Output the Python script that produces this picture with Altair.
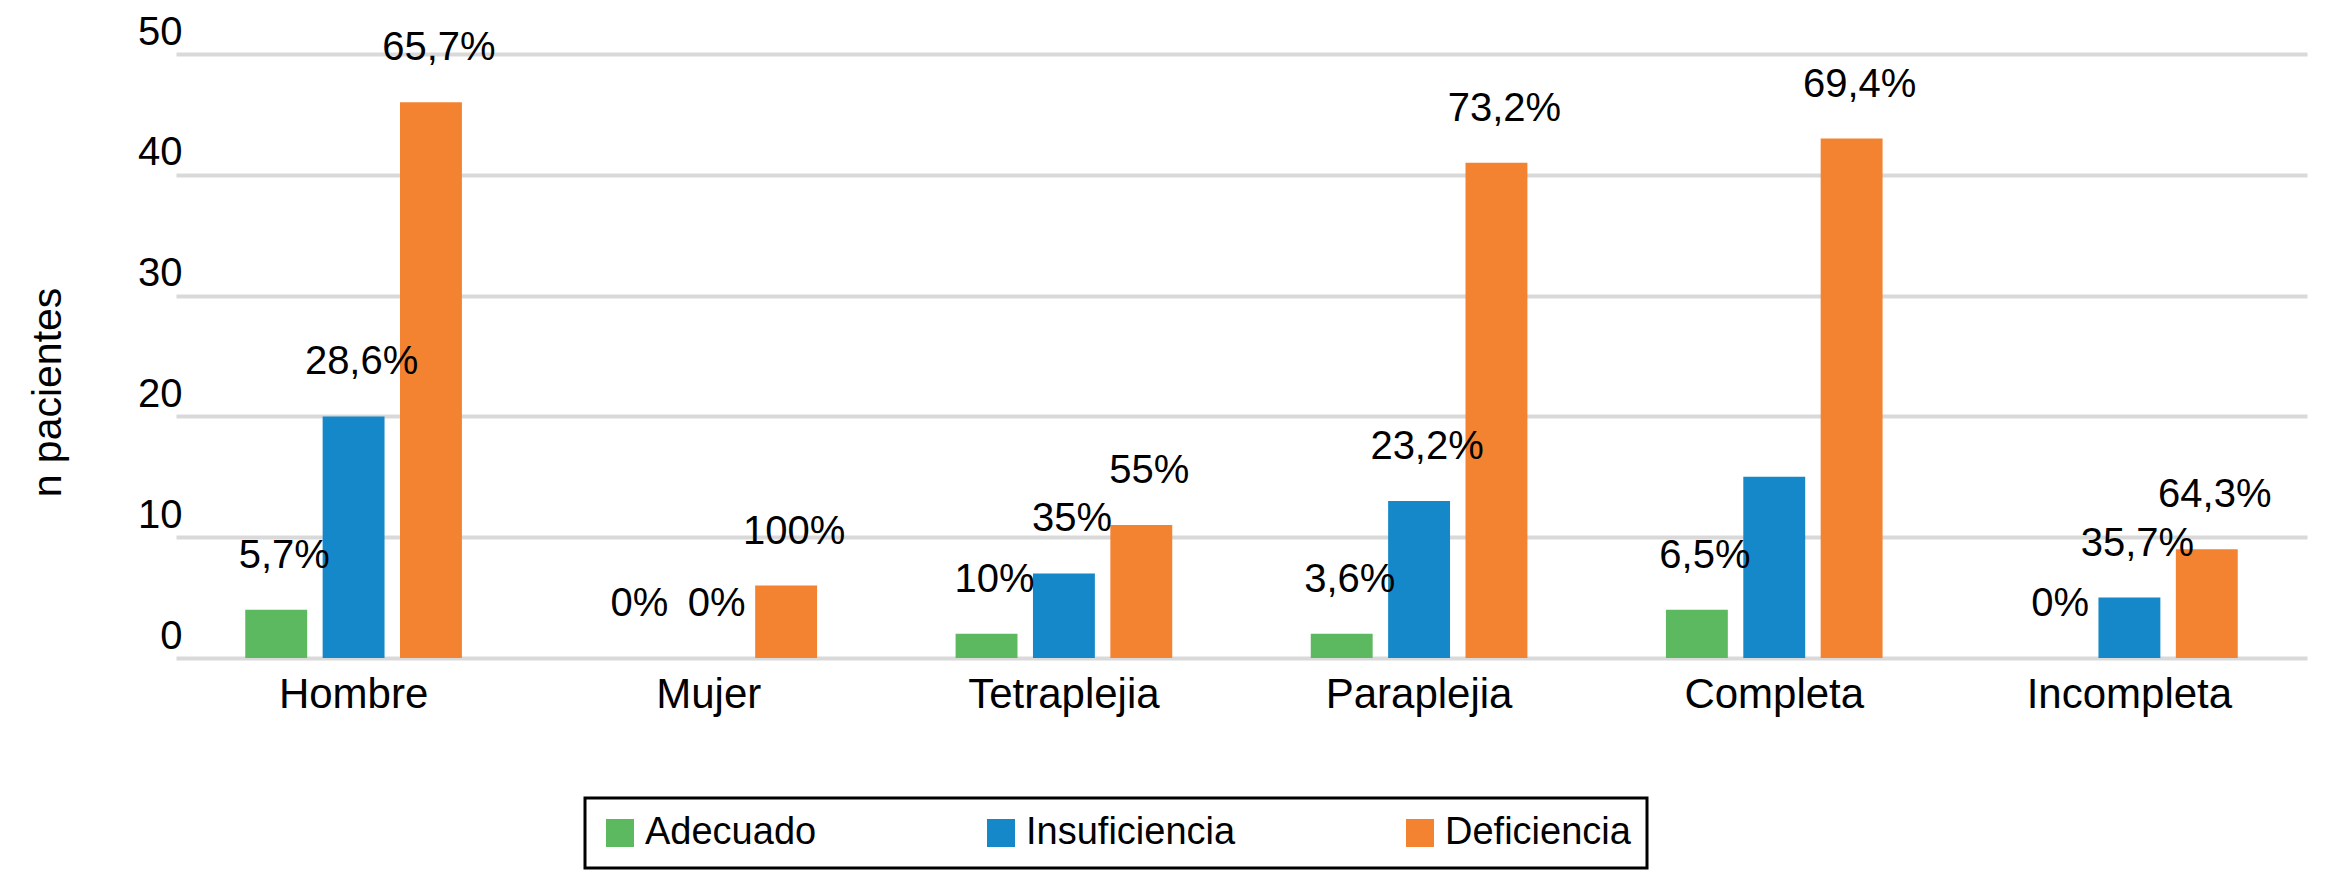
import altair as alt
import pandas as pd

categorias = ["Hombre", "Mujer", "Tetraplejia", "Paraplejia", "Completa", "Incompleta"]
series = ["Adecuado", "Insuficiencia", "Deficiencia"]

adecuado = [4, 0, 2, 2, 4, 0]
insuficiencia = [20, 0, 7, 13, 15, 5]
deficiencia = [46, 6, 11, 41, 43, 9]

pct_adecuado = ["5,7%", "0%", "10%", "3,6%", "6,5%", "0%"]
pct_insuficiencia = ["28,6%", "0%", "35%", "23,2%", "", "35,7%"]
pct_deficiencia = ["65,7%", "100%", "55%", "73,2%", "69,4%", "64,3%"]

colores = ["#5DB960", "#1488C8", "#F38331"]
ticks_y = [0, 10, 20, 30, 40, 50]

FUENTE = "Liberation Sans"

# tabla larga: una fila por barra
filas = []
for serie, valores, pcts in zip(series, [adecuado, insuficiencia, deficiencia],
                                [pct_adecuado, pct_insuficiencia, pct_deficiencia]):
    for cat, v, p in zip(categorias, valores, pcts):
        filas.append({"Categoria": cat, "Serie": serie, "Valor": v, "Etiqueta": p})
df = pd.DataFrame(filas)

base = alt.Chart(df).encode(
    x=alt.X(
        "Categoria:N",
        sort=categorias,
        title=None,
        scale=alt.Scale(paddingInner=0.39, paddingOuter=0.195),
        axis=alt.Axis(
            domain=False, ticks=False, tickSize=0, grid=False, labelAngle=0,
            labelFont=FUENTE, labelFontSize=42, labelColor="black",
            labelPadding=49, labelBaseline="alphabetic", labelLimit=500,
        ),
    ),
    xOffset=alt.XOffset("Serie:N", sort=series,
                        scale=alt.Scale(paddingInner=0.2, paddingOuter=0)),
    y=alt.Y(
        "Valor:Q",
        scale=alt.Scale(domain=[0, 50]),
        axis=alt.Axis(
            values=ticks_y, title="n pacientes",
            domain=False, ticks=False, tickSize=0,
            grid=True, gridColor="#D9D9D9", gridWidth=4,
            labelFont=FUENTE, labelFontSize=40, labelColor="black",
            labelPadding=-6, labelOffset=-10, labelBaseline="alphabetic",
            titleFont=FUENTE, titleFontSize=41, titleFontWeight="normal",
            titleColor="black", titleAngle=270, titleAlign="center",
            titleBaseline="alphabetic", titleX=-116, titleY=338,
        ),
    ),
)

barras = base.mark_bar().encode(
    color=alt.Color(
        "Serie:N",
        sort=series,
        scale=alt.Scale(domain=series, range=colores),
        legend=alt.Legend(
            title=None, orient="none", legendX=409, legendY=744,
            direction="horizontal", symbolType="square", symbolSize=784,
            symbolStrokeWidth=0, symbolOpacity=1,
            labelFont=FUENTE, labelFontSize=38, labelColor="black",
            labelOffset=6, labelLimit=400, columnPadding=165,
            padding=16, strokeColor="black",
        ),
    ),
)

etiquetas = base.mark_text(
    dx=8, dy=-42, baseline="alphabetic", align="center",
    font=FUENTE, fontSize=40, color="black",
).encode(text="Etiqueta:N")

chart = (
    alt.layer(barras, etiquetas)
    .properties(
        width=2131,
        height=604,
        autosize=alt.AutoSizeParams(type="none"),
        padding={"left": 168, "top": 46, "right": 11, "bottom": 218},
        background="white",
    )
    .configure_view(stroke="transparent")
    .configure_legend(strokeWidth=3)
)

chart.save("out.html", embed_options={"renderer": "svg", "actions": False})
